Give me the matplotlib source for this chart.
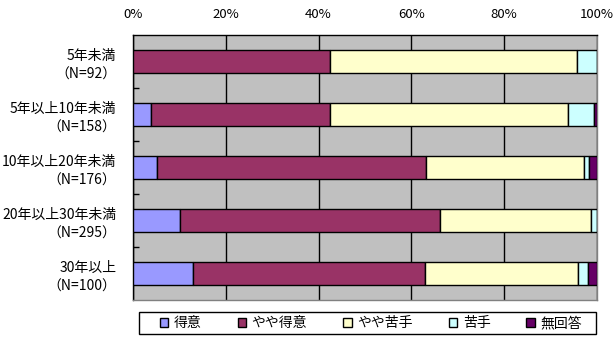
import matplotlib.pyplot as plt
import numpy as np
from matplotlib.patches import Rectangle
from matplotlib.ticker import FixedLocator, FuncFormatter

plt.rcParams['font.family'] = ['Noto Sans CJK JP', 'DejaVu Sans']

# Response share (%) by years of experience
groups = ['5年未満\n（N=92）', '5年以上10年未満\n（N=158）', '10年以上20年未満\n（N=176）',
          '20年以上30年未満\n（N=295）', '30年以上\n（N=100）']
answers = ['得意', 'やや得意', 'やや苦手', '苦手', '無回答']
tokui = [0.0, 3.8, 5.1, 10.2, 13.0]
yaya_tokui = [42.4, 38.6, 58.0, 55.9, 50.0]
yaya_nigate = [53.3, 51.3, 34.1, 32.5, 33.0]
nigate = [4.3, 5.7, 1.1, 1.4, 2.0]
mukaito = [0.0, 0.6, 1.7, 0.0, 2.0]
colors = ['#9999FF', '#993366', '#FFFFCC', '#CCFFFF', '#660066']

series = [tokui, yaya_tokui, yaya_nigate, nigate, mukaito]

W, H = 615, 344
fig = plt.figure(figsize=(W / 100, H / 100), dpi=100)
ax = fig.add_axes([133 / W, 1 - 300 / H, 464 / W, 265 / H])
ax.set_facecolor('#C0C0C0')

y = np.arange(len(groups))
left = np.zeros(len(groups))
for vals, name, c in zip(series, answers, colors):
    vals = np.array(vals)
    ax.barh(y, vals, left=left, height=0.42, color=c, edgecolor='black',
            linewidth=1.0, label=name, zorder=3)
    left += vals

ax.set_xlim(0, 100)
ax.set_ylim(len(groups) - 0.5, -0.5)

# value axis on top
ax.xaxis.set_ticks_position('top')
ax.set_xticks(np.arange(0, 101, 20))
ax.xaxis.set_major_formatter(FuncFormatter(lambda v, p: f'{int(v)}%'))
ax.tick_params(axis='x', length=0, pad=10, labelsize=9.5)
ax.grid(axis='x', color='black', linewidth=1.0, zorder=1)

ax.set_yticks(y)
ax.set_yticklabels(groups, ha='right', fontsize=10, linespacing=1.4)
ax.tick_params(axis='y', which='major', length=0, pad=12)
ax.yaxis.set_minor_locator(FixedLocator(np.arange(0.5, len(groups) - 1, 1.0)))
ax.tick_params(axis='y', which='minor', direction='in', length=4, width=1)

for side in ['left', 'top']:
    ax.spines[side].set_color('black')
    ax.spines[side].set_linewidth(1.0)
for side in ['right', 'bottom']:
    ax.spines[side].set_color('#808080')
    ax.spines[side].set_linewidth(1.0)

# legend row with a plain box around it
fig.legend(loc='center', bbox_to_anchor=(371 / W, 1 - 323 / H),
           ncol=5, fontsize=10, frameon=False,
           handlelength=0.6, handleheight=0.6, handletextpad=0.4,
           columnspacing=2.6, borderpad=0, borderaxespad=0)
fig.patches.append(Rectangle((139 / W, 1 - 334 / H), 457 / W, 22 / H,
                             transform=fig.transFigure, fill=False,
                             edgecolor='black', linewidth=1.0))

fig.savefig('out.png', dpi=100)
